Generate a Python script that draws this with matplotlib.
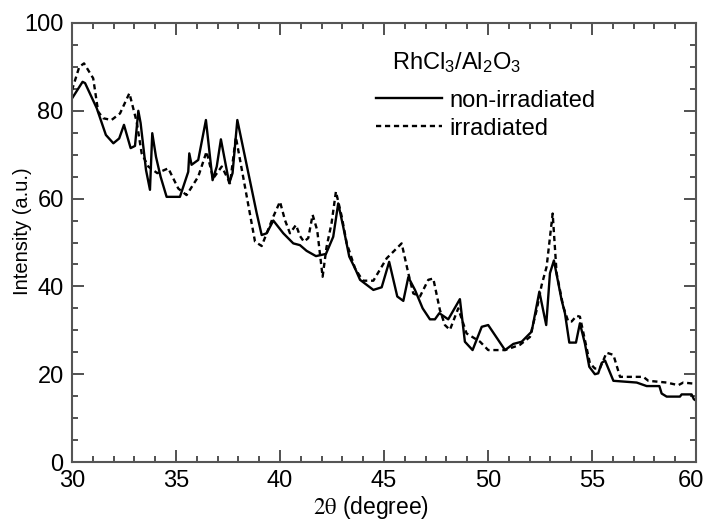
import matplotlib
matplotlib.use("Agg")
import matplotlib.pyplot as plt
import matplotlib.transforms as mtransforms
from matplotlib.ticker import MultipleLocator

plt.rcParams['font.family'] = ['Liberation Sans', 'DejaVu Sans']
plt.rcParams['mathtext.default'] = 'regular'

# non-irradiated (solid)
x_non = [30.0, 30.51, 30.63, 31.19, 31.63, 31.99, 32.27, 32.5, 32.82, 33.03, 33.19, 33.3,
         33.56, 33.75, 33.86, 34.04, 34.26, 34.55, 35.19, 35.59, 35.64, 35.75, 36.07, 36.44,
         36.76, 36.96, 37.16, 37.56, 37.72, 37.95, 38.88, 39.12, 39.36, 39.68, 40.16, 40.64,
         40.96, 41.28, 41.73, 42.21, 42.56, 42.8, 43.04, 43.33, 43.61, 43.85, 44.49, 44.89,
         45.25, 45.64, 45.93, 46.17, 46.49, 46.86, 47.21, 47.45, 47.66, 48.09, 48.65, 48.89,
         49.26, 49.7, 50.01, 50.82, 51.22, 51.62, 52.1, 52.47, 52.8, 52.98, 53.17, 53.54,
         53.7, 53.91, 54.23, 54.42, 54.66, 54.87, 55.14, 55.3, 55.47, 55.63, 56.03, 57.15,
         57.63, 58.24, 58.35, 58.59, 59.23, 59.31, 59.79, 59.9, 60.0]
y_non = [82.8, 86.6, 86.3, 80.6, 74.5, 72.6, 73.7, 76.8, 71.5, 72.0, 80.0, 77.2,
         66.5, 62.0, 74.9, 69.5, 65.0, 60.4, 60.4, 66.1, 70.3, 67.7, 68.8, 77.9,
         64.2, 67.3, 73.5, 63.5, 65.8, 77.9, 56.7, 51.7, 52.1, 55.0, 52.1, 49.8,
         49.4, 48.1, 46.9, 47.4, 51.3, 58.9, 53.6, 46.8, 44.1, 41.5, 39.2, 39.8,
         45.6, 37.7, 36.7, 42.1, 39.2, 35.0, 32.5, 32.5, 33.9, 32.5, 37.1, 27.4,
         25.5, 30.8, 31.2, 25.5, 26.9, 27.4, 29.7, 38.8, 31.2, 43.0, 45.9, 36.9,
         33.9, 27.2, 27.2, 31.6, 27.0, 21.7, 20.0, 20.2, 22.6, 23.1, 18.5, 18.1,
         17.3, 17.3, 15.6, 14.9, 14.9, 15.4, 15.4, 14.3, 14.0]

# irradiated (dashed)
x_irr = [30.0, 30.35, 30.58, 31.02, 31.26, 31.5, 31.9, 32.31, 32.76, 33.11, 33.35, 33.67,
         34.1, 34.63, 35.11, 35.51, 36.07, 36.47, 36.79, 37.2, 37.6, 37.88, 38.8, 39.12,
         39.68, 40.0, 40.24, 40.48, 40.77, 40.96, 41.15, 41.36, 41.57, 41.79, 42.05, 42.24,
         42.48, 42.69, 42.97, 43.21, 43.61, 43.98, 44.49, 45.13, 45.85, 46.17, 46.41, 46.73,
         47.13, 47.37, 47.69, 47.93, 48.17, 48.57, 48.97, 49.62, 50.01, 50.82, 51.54, 52.02,
         52.34, 52.58, 52.82, 53.11, 53.3, 53.62, 53.86, 54.02, 54.26, 54.42, 54.66, 54.9,
         55.14, 55.38, 55.7, 56.03, 56.35, 56.59, 57.47, 57.71, 58.59, 59.15, 59.39, 60.0]
y_irr = [84.7, 90.0, 90.8, 87.4, 79.8, 78.3, 77.9, 79.4, 84.0, 77.5, 70.3, 67.3,
         65.8, 66.9, 62.3, 60.8, 65.0, 70.7, 64.6, 67.3, 63.5, 74.0, 50.2, 49.2,
         55.9, 59.3, 55.1, 52.1, 54.0, 51.5, 50.2, 51.0, 56.3, 52.8, 42.2, 49.0,
         54.4, 61.6, 55.9, 49.8, 44.1, 41.3, 41.3, 46.4, 49.8, 43.0, 38.4, 37.7,
         41.5, 41.8, 34.6, 31.2, 30.1, 35.0, 29.3, 27.4, 25.5, 25.5, 26.7, 28.5,
         34.6, 40.3, 44.5, 56.6, 43.0, 35.4, 32.0, 32.0, 33.3, 33.1, 27.8, 22.5,
         21.3, 21.3, 24.9, 24.4, 19.4, 19.4, 19.4, 18.5, 18.1, 17.5, 18.1, 17.8]

x_ticks = [30, 35, 40, 45, 50, 55, 60]
y_ticks = [0, 20, 40, 60, 80, 100]
labels = ['non-irradiated', 'irradiated']
legend_title = 'RhCl$_3$/Al$_2$O$_3$'

fig = plt.figure(figsize=(7.07, 5.2), dpi=100)
ax = fig.add_axes([0.1018, 0.1115, 0.8826, 0.8443])

ax.plot(x_non, y_non, color='black', lw=1.7, ls='-', label=labels[0])
ax.plot(x_irr, y_irr, color='black', lw=1.7, ls=(0, (2.2, 1.6)), label=labels[1])

ax.set_xlim(30, 60)
ax.set_ylim(0, 100)
ax.set_xticks(x_ticks, [str(v) for v in x_ticks])
ax.set_yticks(y_ticks, [str(v) for v in y_ticks])
ax.xaxis.set_minor_locator(MultipleLocator(1))
ax.yaxis.set_minor_locator(MultipleLocator(5))
ax.tick_params(which='both', direction='in', top=True, right=True, color='#333333', width=1.2)
ax.tick_params(which='major', length=8.5, labelsize=17, pad=6)
ax.tick_params(which='minor', length=4)
for s in ax.spines.values():
    s.set_color('#555555')
    s.set_linewidth(1.5)

ax.set_ylabel('Intensity (a.u.)', fontsize=14.5)
ax.yaxis.set_label_coords(-0.064, 0.526)
ax.set_xlabel('$\\mathrm{2\\theta}$ (degree)', fontsize=16.5, labelpad=0, math_fontfamily='stix')
ax.xaxis.set_label_coords(0.48, -0.072)

ax.text(0.513, 90.9, legend_title, transform=ax.get_yaxis_transform(), fontsize=17,
        va='center', ha='left')
ax.legend(loc='upper left', bbox_to_anchor=(0.487, 0.848), frameon=False, fontsize=17,
          handlelength=2.8, handletextpad=0.3, borderpad=0, borderaxespad=0,
          labelspacing=0.25)

# nudge the last x tick label slightly left so it stays inside the figure
last = ax.xaxis.get_major_ticks()[-1].label1
last.set_transform(last.get_transform() + mtransforms.ScaledTranslation(-3.5 / 72, 0, fig.dpi_scale_trans))

fig.savefig('out.png', dpi=100)
